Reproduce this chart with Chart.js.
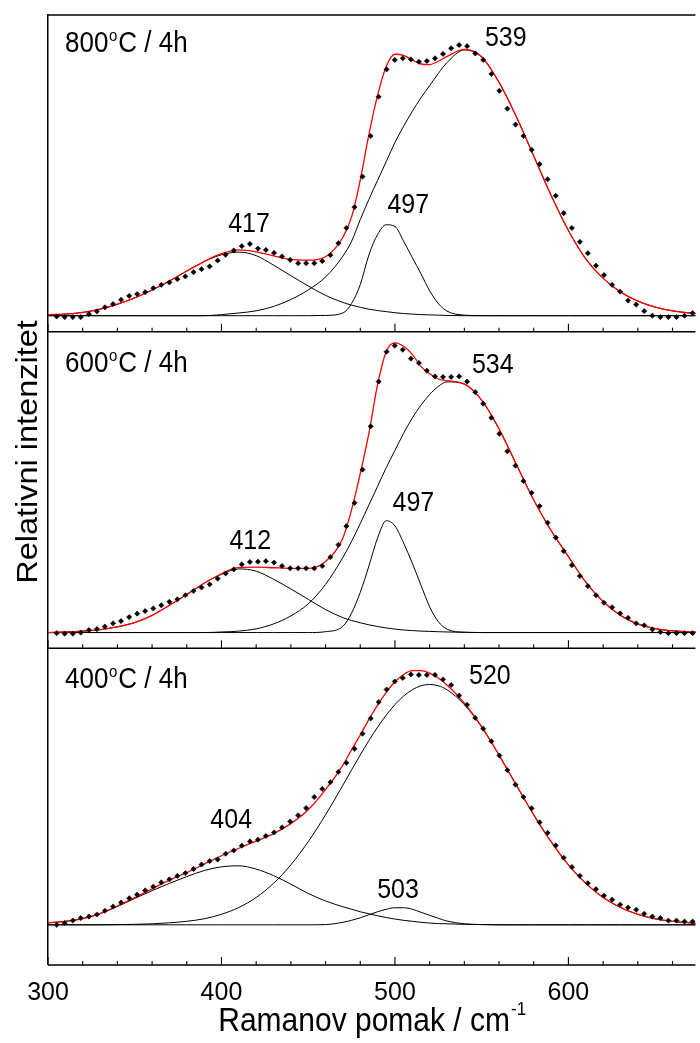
<!DOCTYPE html>
<html>
<head>
<meta charset="utf-8">
<script src="https://cdn.jsdelivr.net/npm/chart.js@4.4.1/dist/chart.umd.min.js"></script>
<style>
    html, body { margin: 0; padding: 0; background: #fff; }
    #raman { display: block; }
</style>
</head>
<body>
<canvas id="raman" width="700" height="1043"></canvas>
<script>
// measured points, Raman shift (cm-1)
const ramanX = [
    305.0, 309.6, 314.3, 318.9, 323.6, 328.2, 332.8, 337.5, 342.1, 346.8,
    351.4, 356.0, 360.7, 365.3, 370.0, 374.6, 379.2, 383.9, 388.5, 393.2,
    397.8, 402.4, 407.1, 411.7, 416.4, 421.0, 425.6, 430.3, 434.9, 439.6,
    444.2, 448.8, 453.5, 458.1, 462.8, 467.4, 472.0, 476.7, 481.3, 486.0,
    490.6, 495.2, 499.9, 504.5, 509.2, 513.8, 518.4, 523.1, 527.7, 532.4,
    537.0, 541.6, 546.3, 550.9, 555.6, 560.2, 564.8, 569.5, 574.1, 578.8,
    583.4, 588.0, 592.7, 597.3, 602.0, 606.6, 611.2, 615.9, 620.5, 625.2,
    629.8, 634.4, 639.1, 643.7, 648.4, 653.0, 657.6, 662.3, 666.9, 671.6
];
const dots800 = [
    -0.003, -0.005, -0.005, -0.005, 0.006, 0.016, 0.031, 0.043, 0.059, 0.073,
    0.080, 0.087, 0.102, 0.114, 0.123, 0.135, 0.145, 0.161, 0.172, 0.182,
    0.204, 0.225, 0.241, 0.257, 0.265, 0.248, 0.243, 0.232, 0.219, 0.206,
    0.194, 0.194, 0.194, 0.202, 0.224, 0.268, 0.324, 0.401, 0.514, 0.664,
    0.809, 0.910, 0.945, 0.951, 0.947, 0.938, 0.941, 0.951, 0.967, 0.988,
    1.000, 0.996, 0.969, 0.945, 0.893, 0.831, 0.765, 0.706, 0.664, 0.613,
    0.560, 0.504, 0.443, 0.379, 0.324, 0.273, 0.231, 0.185, 0.150, 0.114,
    0.089, 0.056, 0.041, 0.017, 0.000, -0.005, -0.005, -0.005, 0.000, 0.010
];
const dots600 = [
    -0.002, -0.004, -0.004, 0.000, 0.009, 0.012, 0.021, 0.032, 0.040, 0.054,
    0.066, 0.075, 0.084, 0.095, 0.107, 0.116, 0.130, 0.145, 0.157, 0.168,
    0.188, 0.206, 0.220, 0.238, 0.246, 0.247, 0.249, 0.244, 0.232, 0.224,
    0.224, 0.224, 0.224, 0.232, 0.263, 0.306, 0.371, 0.452, 0.568, 0.719,
    0.875, 0.979, 1.000, 0.986, 0.955, 0.940, 0.913, 0.893, 0.891, 0.891,
    0.893, 0.875, 0.838, 0.798, 0.749, 0.693, 0.632, 0.582, 0.528, 0.487,
    0.441, 0.383, 0.331, 0.284, 0.235, 0.197, 0.162, 0.130, 0.104, 0.088,
    0.067, 0.051, 0.032, 0.025, 0.011, 0.002, -0.002, -0.002, -0.002, -0.002
];
const dots400 = [
    0.000, 0.007, 0.017, 0.027, 0.033, 0.041, 0.056, 0.073, 0.089, 0.106,
    0.120, 0.137, 0.152, 0.169, 0.181, 0.195, 0.206, 0.222, 0.240, 0.254,
    0.260, 0.283, 0.296, 0.315, 0.332, 0.339, 0.354, 0.368, 0.388, 0.411,
    0.436, 0.465, 0.509, 0.541, 0.568, 0.609, 0.645, 0.701, 0.761, 0.822,
    0.887, 0.937, 0.969, 0.983, 0.997, 0.995, 0.995, 0.995, 0.977, 0.955,
    0.913, 0.876, 0.824, 0.781, 0.731, 0.674, 0.616, 0.558, 0.509, 0.464,
    0.408, 0.366, 0.316, 0.267, 0.230, 0.195, 0.166, 0.142, 0.116, 0.100,
    0.080, 0.069, 0.060, 0.044, 0.033, 0.027, 0.017, 0.017, 0.013, 0.013
];

// fitted curves, read on this grid
const fitX = [
    300, 310, 320, 330, 340, 350, 360, 370, 380, 390, 400, 410, 420, 430, 440, 450, 460,
    470, 475, 480, 485, 490, 495, 500, 505, 510, 515, 520, 525, 530,
    540, 550, 560, 570, 580, 590, 600, 610, 620, 630, 640, 650, 660, 670, 680
];
const fit800 = [
    0.004, 0.006, 0.012, 0.024, 0.043, 0.066, 0.095, 0.128, 0.165, 0.200, 0.229, 0.243, 0.236, 0.221, 0.208, 0.205, 0.218,
    0.290, 0.365, 0.501, 0.670, 0.815, 0.921, 0.966, 0.962, 0.945, 0.930, 0.928, 0.940, 0.958,
    0.984, 0.957, 0.862, 0.735, 0.590, 0.445, 0.315, 0.210, 0.138, 0.088, 0.054, 0.032, 0.018, 0.010, 0.005
];
const band417 = [
    0.003, 0.006, 0.012, 0.024, 0.042, 0.066, 0.095, 0.128, 0.165, 0.200, 0.225, 0.235, 0.222, 0.187, 0.148, 0.110, 0.075,
    0.049, 0.039, 0.031, 0.024, 0.019, 0.015, 0.011, 0.008, 0.006, 0.004, 0.003, 0.002, 0.001,
    0, 0, 0, 0, 0, 0, 0, 0, 0, 0, 0, 0, 0, 0, 0
];
const band497a = [
    0, 0, 0, 0, 0, 0, 0, 0, 0, 0, 0, 0, 0, 0, 0, 0, 0.001,
    0.010, 0.045, 0.115, 0.225, 0.300, 0.336, 0.330, 0.275, 0.215, 0.155, 0.092, 0.045, 0.017,
    0.002, 0, 0, 0, 0, 0, 0, 0, 0, 0, 0, 0, 0, 0, 0
];
const band539 = [
    0, 0, 0, 0, 0, 0, 0, 0, 0, 0, 0.004, 0.010, 0.018, 0.034, 0.060, 0.095, 0.143,
    0.220, 0.275, 0.355, 0.430, 0.500, 0.570, 0.640, 0.700, 0.755, 0.805, 0.850, 0.895, 0.935,
    0.982, 0.955, 0.862, 0.735, 0.590, 0.445, 0.315, 0.210, 0.138, 0.088, 0.054, 0.032, 0.018, 0.010, 0.005
];
const fit600 = [
    0.000, 0.002, 0.005, 0.010, 0.020, 0.035, 0.060, 0.095, 0.133, 0.172, 0.205, 0.227, 0.228, 0.226, 0.224, 0.224, 0.248,
    0.330, 0.428, 0.554, 0.695, 0.865, 0.980, 1.010, 0.998, 0.970, 0.928, 0.902, 0.884, 0.878,
    0.867, 0.810, 0.710, 0.586, 0.462, 0.356, 0.265, 0.176, 0.108, 0.060, 0.030, 0.014, 0.006, 0.003, 0.001
];
const band412 = [
    0.000, 0.002, 0.005, 0.010, 0.020, 0.035, 0.060, 0.095, 0.133, 0.172, 0.203, 0.222, 0.214, 0.186, 0.152, 0.116, 0.080,
    0.052, 0.042, 0.034, 0.027, 0.021, 0.016, 0.012, 0.009, 0.007, 0.005, 0.004, 0.003, 0.002,
    0.001, 0, 0, 0, 0, 0, 0, 0, 0, 0, 0, 0, 0, 0, 0
];
const band497b = [
    0, 0, 0, 0, 0, 0, 0, 0, 0, 0, 0, 0, 0, 0, 0, 0, 0.003,
    0.022, 0.068, 0.140, 0.232, 0.330, 0.390, 0.372, 0.312, 0.242, 0.165, 0.090, 0.038, 0.012,
    0.001, 0, 0, 0, 0, 0, 0, 0, 0, 0, 0, 0, 0, 0, 0
];
const band534 = [
    0, 0, 0, 0, 0, 0, 0, 0, 0, 0, 0.002, 0.005, 0.013, 0.030, 0.058, 0.100, 0.168,
    0.262, 0.318, 0.380, 0.445, 0.510, 0.575, 0.635, 0.695, 0.748, 0.793, 0.830, 0.858, 0.874,
    0.866, 0.810, 0.710, 0.586, 0.462, 0.356, 0.265, 0.176, 0.108, 0.060, 0.030, 0.014, 0.006, 0.003, 0.001
];
const fit400 = [
    0.008, 0.014, 0.025, 0.045, 0.075, 0.108, 0.143, 0.178, 0.208, 0.242, 0.275, 0.305, 0.333, 0.363, 0.403, 0.458, 0.538,
    0.636, 0.697, 0.756, 0.818, 0.875, 0.926, 0.968, 0.997, 1.012, 1.012, 1.002, 0.983, 0.955,
    0.883, 0.789, 0.676, 0.556, 0.438, 0.331, 0.239, 0.165, 0.109, 0.069, 0.042, 0.024, 0.014, 0.008, 0.004
];
const band404 = [
    0.008, 0.014, 0.025, 0.044, 0.073, 0.105, 0.136, 0.165, 0.192, 0.216, 0.231, 0.235, 0.222, 0.196, 0.162, 0.125, 0.095,
    0.072, 0.062, 0.052, 0.044, 0.036, 0.029, 0.023, 0.018, 0.014, 0.010, 0.007, 0.005, 0.004,
    0.002, 0.001, 0, 0, 0, 0, 0, 0, 0, 0, 0, 0, 0, 0, 0
];
const band503 = [
    0, 0, 0, 0, 0, 0, 0, 0, 0, 0, 0, 0, 0, 0, 0, 0, 0.001,
    0.010, 0.018, 0.028, 0.040, 0.052, 0.062, 0.068, 0.068, 0.062, 0.050, 0.038, 0.026, 0.015,
    0.004, 0.001, 0, 0, 0, 0, 0, 0, 0, 0, 0, 0, 0, 0, 0
];
const band520 = [
    0, 0, 0, 0, 0.001, 0.002, 0.004, 0.008, 0.014, 0.024, 0.042, 0.069, 0.109, 0.165, 0.239, 0.331, 0.438,
    0.556, 0.617, 0.676, 0.734, 0.787, 0.835, 0.877, 0.911, 0.936, 0.952, 0.957, 0.952, 0.936,
    0.877, 0.787, 0.676, 0.556, 0.438, 0.331, 0.239, 0.165, 0.109, 0.069, 0.042, 0.024, 0.014, 0.008, 0.004
];

const majorTicks = [300, 400, 500, 600];
const minorTicks = [320, 340, 360, 380, 420, 440, 460, 480, 520, 540, 560, 580, 620, 640, 660];
const temperatures = ["800", "600", "400"];
const peakNames = [["417", "497", "539"], ["412", "497", "534"], ["404", "503", "520"]];

const FONT = '"Liberation Sans", Arial, sans-serif';
const STRETCH = 1.12;

// where the peak numbers sit, in axis units (x, y of baseline centre)
const peakSpots = [
    [[415.9, 0.311], [507.7, 0.379], [563.9, 0.996]],
    [[416.6, 0.292], [510.6, 0.423], [556.4, 0.905]],
    [[405.6, 0.386], [501.8, 0.107], [554.7, 0.957]],
];

function pts(xs, ys) {
    return xs.map((x, i) => ({ x: x, y: ys[i] }));
}

function panelSets(axis, dots, fit, bands) {
    const sets = bands.map((b) => ({
        data: pts(fitX, b),
        yAxisID: axis,
        borderColor: "#000",
        borderWidth: 1,
        pointRadius: 0,
        cubicInterpolationMode: "monotone",
        fill: false,
        order: 2,
    }));
    sets.push({
        data: pts(fitX, fit),
        yAxisID: axis,
        borderColor: "#ff0000",
        borderWidth: 1.3,
        pointRadius: 0,
        cubicInterpolationMode: "monotone",
        fill: false,
        order: 1,
    });
    sets.push({
        data: pts(ramanX, dots),
        yAxisID: axis,
        showLine: false,
        pointStyle: "rectRot",
        pointRadius: 2.6,
        pointBackgroundColor: "#000",
        pointBorderColor: "#000",
        pointBorderWidth: 0.6,
        order: 0,
    });
    return sets;
}

function panelAxis(min, max, weight) {
    return {
        type: "linear",
        position: "left",
        stack: "panels",
        stackWeight: 1,
        weight: weight,
        min: min,
        max: max,
        grid: { display: false, drawTicks: false },
        ticks: { display: false },
        border: { display: true, color: "#000", width: 1.5 },
    };
}

function stretchText(ctx, text, x, y, size, align) {
    ctx.save();
    ctx.translate(x, y);
    ctx.scale(1, STRETCH);
    ctx.font = size + "px " + FONT;
    ctx.textAlign = align;
    ctx.textBaseline = "alphabetic";
    ctx.fillText(text, 0, 0);
    ctx.restore();
}

const framePlugin = {
    id: "frame",
    afterDraw(chart) {
        const ctx = chart.ctx;
        const x = chart.scales.x;
        const area = chart.chartArea;
        const panels = ["y1", "y2", "y3"].map((id) => chart.scales[id]);

        ctx.save();
        ctx.strokeStyle = "#000";
        ctx.fillStyle = "#000";

        // panel frames
        ctx.lineWidth = 1.5;
        const edges = [panels[0].top].concat(panels.map((p) => p.bottom));
        edges.forEach((y) => {
            ctx.beginPath();
            ctx.moveTo(area.left, y);
            ctx.lineTo(area.right, y);
            ctx.stroke();
        });

        // inward ticks on every panel bottom
        ctx.lineWidth = 1.1;
        panels.forEach((p) => {
            const b = p.bottom;
            majorTicks.forEach((v) => {
                const px = x.getPixelForValue(v);
                ctx.beginPath();
                ctx.moveTo(px, b);
                ctx.lineTo(px, b - 8);
                ctx.stroke();
            });
            minorTicks.forEach((v) => {
                const px = x.getPixelForValue(v);
                ctx.beginPath();
                ctx.moveTo(px, b);
                ctx.lineTo(px, b - 4);
                ctx.stroke();
            });
        });

        // panel captions
        const capDrop = [37, 40, 40];
        panels.forEach((p, i) => {
            const bx = area.left + 17;
            const by = p.top + capDrop[i];
            ctx.font = "26px " + FONT;
            const w1 = ctx.measureText(temperatures[i]).width;
            stretchText(ctx, temperatures[i], bx, by, 26, "left");
            ctx.font = "15px " + FONT;
            const w2 = ctx.measureText("o").width;
            stretchText(ctx, "o", bx + w1 + 0.5, by - 11, 15, "left");
            stretchText(ctx, "C / 4h", bx + w1 + w2 + 1.5, by, 26, "left");
        });

        // peak positions
        panels.forEach((p, i) => {
            peakNames[i].forEach((name, j) => {
                const spot = peakSpots[i][j];
                stretchText(ctx, name, x.getPixelForValue(spot[0]), p.getPixelForValue(spot[1]), 25, "center");
            });
        });

        // axis titles
        ctx.save();
        ctx.translate(area.left - 11.5, area.top + 0.46 * (area.bottom - area.top));
        ctx.rotate(-Math.PI / 2);
        ctx.scale(STRETCH, 1);
        ctx.font = "29px " + FONT;
        ctx.textAlign = "center";
        ctx.textBaseline = "alphabetic";
        ctx.fillText("Relativni intenzitet", 0, 0);
        ctx.restore();

        const main = "Ramanov pomak / cm";
        ctx.font = "30px " + FONT;
        const wm = ctx.measureText(main).width;
        ctx.font = "17px " + FONT;
        const ws = ctx.measureText("-1").width;
        const tx = (area.left + area.right) / 2 - (wm + ws) / 2;
        const ty = chart.height - 12;
        stretchText(ctx, main, tx, ty, 30, "left");
        stretchText(ctx, "-1", tx + wm + 1, ty - 16, 17, "left");

        ctx.restore();
    },
};

Chart.defaults.font.family = FONT;
Chart.defaults.color = "#000";

new Chart(document.getElementById("raman"), {
    type: "line",
    data: {
        datasets: []
            .concat(panelSets("y1", dots800, fit800, [band417, band497a, band539]))
            .concat(panelSets("y2", dots600, fit600, [band412, band497b, band534]))
            .concat(panelSets("y3", dots400, fit400, [band404, band503, band520])),
    },
    options: {
        responsive: false,
        animation: false,
        layout: { padding: { left: 48, top: 15, right: 0, bottom: 22 } },
        plugins: {
            legend: { display: false },
            tooltip: { enabled: false },
        },
        scales: {
            x: {
                type: "linear",
                position: "bottom",
                min: 300,
                max: 673.2,
                grid: { display: false, drawTicks: false },
                border: { display: false },
                ticks: {
                    font: { size: 25 },
                    color: "#000",
                    padding: 13,
                    maxRotation: 0,
                    autoSkip: false,
                },
                afterBuildTicks: (axis) => {
                    axis.ticks = majorTicks.map((v) => ({ value: v }));
                },
            },
            y1: panelAxis(-0.059, 1.111, 3),
            y2: panelAxis(-0.055, 1.049, 2),
            y3: panelAxis(-0.16, 1.101, 1),
        },
    },
    plugins: [framePlugin],
});
</script>
</body>
</html>
